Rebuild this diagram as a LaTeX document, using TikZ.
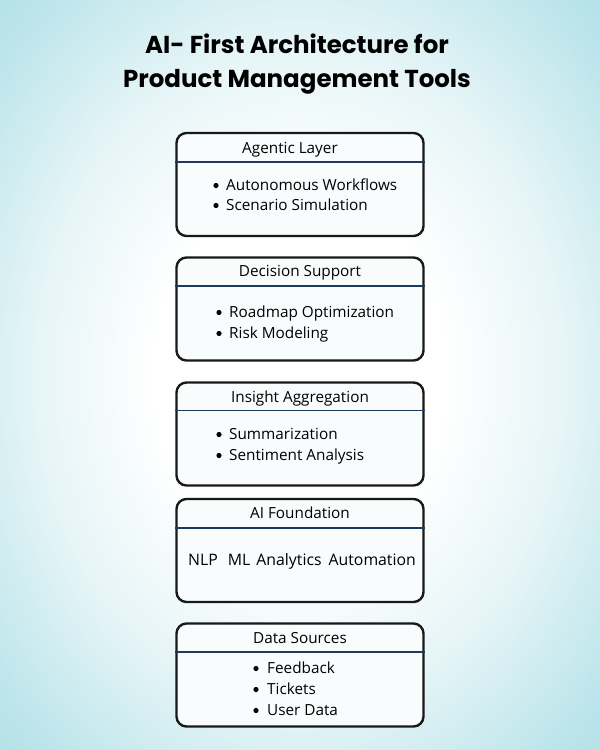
\documentclass[tikz,border=0pt]{standalone}
\usepackage{fontspec}
\setmainfont{Open Sans}
\newfontfamily\titlefont{Poppins}[UprightFont=* Bold]
\definecolor{bgA}{HTML}{E6F5F7}
\definecolor{bgB}{HTML}{BAE4EA}
\definecolor{bgC}{HTML}{A4DAE1}
\definecolor{bgD}{HTML}{9AD5DD}
\definecolor{divider}{HTML}{1B3A5C}
\definecolor{boxfill}{HTML}{F8FCFD}
\pgfdeclareradialshading{bgshade}{\pgfpoint{0bp}{0bp}}{color(0bp)=(white); color(12bp)=(white); color(22bp)=(bgA); color(33bp)=(bgB); color(42bp)=(bgC); color(50bp)=(bgD); color(72bp)=(bgD)}
\tikzset{
  layerbox/.style={draw=black!90, line width=2.4pt, rounded corners=10pt, fill=boxfill, minimum width=247pt, minimum height=103pt, inner sep=0pt},
  divline/.style={draw=divider, line width=1.1pt},
  headtxt/.style={font=\fontsize{15.3}{18}\selectfont, anchor=base, inner sep=0pt},
  itemtxt/.style={font=\fontsize{15.3}{18}\selectfont, anchor=base west, inner sep=0pt},
  dot/.style={circle, fill=black, inner sep=0pt, minimum size=5.2pt},
  titletxt/.style={font=\titlefont\fontsize{24.5}{30}\selectfont, anchor=base, inner sep=0pt}
}
\begin{document}
\begin{tikzpicture}[x=1pt,y=-1pt]
\useasboundingbox (0,0) rectangle (600,750);
\shade[shading=bgshade] (0,0) rectangle (600,750);
% title
\node[titletxt] (t1) at (297,53) {AI- First Architecture for};
\node[titletxt] (t2) at (297,87) {Product Management Tools};
% boxes
\node[layerbox] (b1) at (300,184.5) {};
\node[layerbox] (b2) at (300,309) {};
\node[layerbox] (b3) at (300,434) {};
\node[layerbox] (b4) at (300,550.5) {};
\node[layerbox] (b5) at (300,675) {};
% dividers
\coordinate (d1) at (0,162);
\coordinate (d2) at (0,286);
\coordinate (d3) at (0,410.5);
\coordinate (d4) at (0,528);
\coordinate (d5) at (0,652);
\draw[divline] (b1.west |- d1) -- (b1.east |- d1);
\draw[divline] (b2.west |- d2) -- (b2.east |- d2);
\draw[divline] (b3.west |- d3) -- (b3.east |- d3);
\draw[divline] (b4.west |- d4) -- (b4.east |- d4);
\draw[divline] (b5.west |- d5) -- (b5.east |- d5);
% headings
\node[headtxt] (h1) at (290,153) {Agentic Layer};
\node[headtxt] (h2) at (300,276) {Decision Support};
\node[headtxt] (h3) at (300,402) {Insight Aggregation};
\node[headtxt] (h4) at (300,518) {AI Foundation};
\node[headtxt] (h5) at (300,643) {Data Sources};
% bullets
\node[dot] (p11) at (216,185.5) {};
\node[dot] (p12) at (216,205.5) {};
\node[dot] (p21) at (219,312.5) {};
\node[dot] (p22) at (219,333.5) {};
\node[dot] (p31) at (219,434.5) {};
\node[dot] (p32) at (219,455.5) {};
\node[dot] (p51) at (256,668.5) {};
\node[dot] (p52) at (256,689.5) {};
\node[dot] (p53) at (256,710.5) {};
% items
\node[itemtxt] (i11) at (226,190) {Autonomous Workflows};
\node[itemtxt] (i12) at (226,210) {Scenario Simulation};
\node[itemtxt] (i21) at (229,317) {Roadmap Optimization};
\node[itemtxt] (i22) at (229,338) {Risk Modeling};
\node[itemtxt] (i31) at (229,439) {Summarization};
\node[itemtxt] (i32) at (229,460) {Sentiment Analysis};
\node[itemtxt, font=\fontsize{15.8}{18}\selectfont] (i41) at (188,565) {NLP\hspace{6pt} ML\hspace{2pt} Analytics\hspace{3pt} Automation};
\node[itemtxt] (i51) at (267,673) {Feedback};
\node[itemtxt] (i52) at (267,694) {Tickets};
\node[itemtxt] (i53) at (267,715) {User Data};
\end{tikzpicture}
\end{document}
